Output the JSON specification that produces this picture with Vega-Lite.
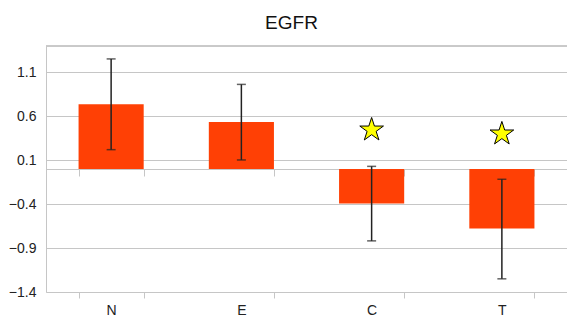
{
  "$schema": "https://vega.github.io/schema/vega-lite/v6.json",
  "autosize": "none",
  "width": 521,
  "height": 246,
  "padding": {"left": 46, "top": 46, "right": 0, "bottom": 28},
  "background": "white",
  "title": {"text": "EGFR", "fontSize": 19, "font": "Liberation Sans", "fontWeight": "normal", "color": "#111", "anchor": "middle", "dx": -15, "offset": 13},
  "config": {"view": {"stroke": null}, "font": "Liberation Sans"},
  "data": {"values": [
    {"group": "N", "mean": 0.737, "lo": 0.22, "hi": 1.253, "star": null},
    {"group": "E", "mean": 0.535, "lo": 0.103, "hi": 0.963, "star": null},
    {"group": "C", "mean": -0.394, "lo": -0.818, "hi": 0.03, "star": 0.445},
    {"group": "T", "mean": -0.678, "lo": -1.25, "hi": -0.117, "star": 0.40}
  ]},
  "resolve": {"axis": {"x": "independent"}},
  "layer": [
    {
      "mark": {"type": "bar", "color": "#ff4005"},
      "encoding": {
        "x": {"field": "group", "type": "nominal", "sort": ["N", "E", "C", "T"],
              "scale": {"paddingInner": 0.5, "paddingOuter": 0.25},
              "axis": {"orient": "bottom", "title": null, "labelAngle": 0, "labelFontSize": 14, "labelColor": "#222", "labelPadding": 5,
                       "domainColor": "#c6c6c6", "tickColor": "#c6c6c6", "tickBand": "extent", "tickSize": 6, "grid": false}},
        "y": {"field": "mean", "type": "quantitative", "scale": {"domain": [-1.4, 1.4], "nice": false, "zero": false},
              "axis": {"title": null, "values": [-1.4, -0.9, -0.4, 0.1, 0.6, 1.1], "format": ".1f", "labelFontSize": 14, "labelColor": "#222",
                       "ticks": false, "labelPadding": 10, "grid": true, "gridColor": "#c6c6c6", "domainColor": "#c6c6c6"}}
      }
    },
    {
      "mark": {"type": "rule", "color": "#222", "strokeWidth": 1.5},
      "encoding": {
        "x": {"field": "group", "type": "nominal", "sort": ["N", "E", "C", "T"],
              "axis": {"orient": "bottom", "offset": -123, "labels": false, "title": null, "domainColor": "#c6c6c6",
                       "tickColor": "#c6c6c6", "tickBand": "extent", "tickSize": 7, "grid": false}},
        "y": {"field": "lo", "type": "quantitative"},
        "y2": {"field": "hi"}
      }
    },
    {
      "mark": {"type": "tick", "color": "#222", "thickness": 1.5, "size": 9},
      "encoding": {
        "x": {"field": "group", "type": "nominal", "sort": ["N", "E", "C", "T"], "axis": null},
        "y": {"field": "lo", "type": "quantitative"}
      }
    },
    {
      "mark": {"type": "tick", "color": "#222", "thickness": 1.5, "size": 9},
      "encoding": {
        "x": {"field": "group", "type": "nominal", "sort": ["N", "E", "C", "T"], "axis": null},
        "y": {"field": "hi", "type": "quantitative"}
      }
    },
    {
      "mark": {"type": "point", "shape": "M0,-1L0.225,-0.309L0.951,-0.309L0.363,0.118L0.588,0.809L0,0.382L-0.588,0.809L-0.363,0.118L-0.951,-0.309L-0.225,-0.309Z", "filled": true, "color": "#ffff00", "stroke": "#000", "strokeWidth": 1, "size": 620, "opacity": 1},
      "encoding": {
        "x": {"field": "group", "type": "nominal", "sort": ["N", "E", "C", "T"], "axis": null},
        "y": {"field": "star", "type": "quantitative"}
      }
    },
    {
      "mark": {"type": "rule", "color": "#c6c6c6", "strokeWidth": 1},
      "encoding": {"x": {"value": 0}, "x2": {"value": 521}, "y": {"datum": 1.4, "type": "quantitative"}}
    }
  ]
}
